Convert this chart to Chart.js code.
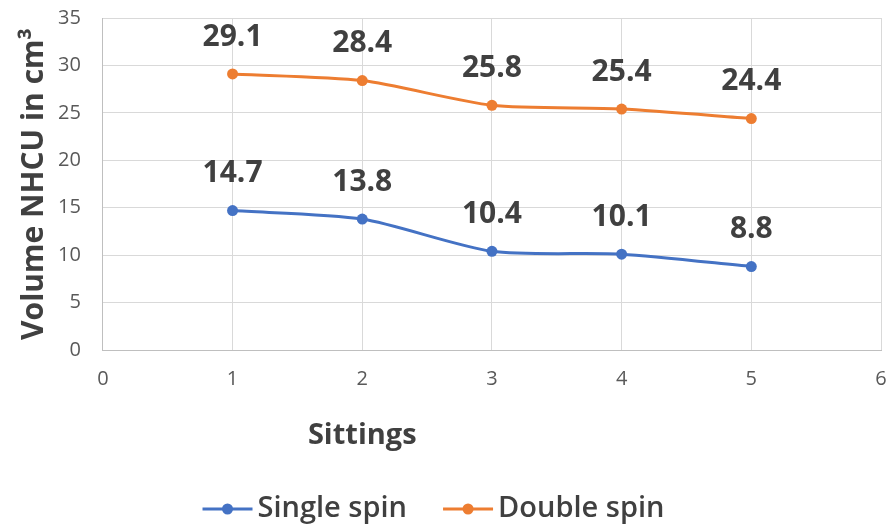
<!DOCTYPE html>
<html>
<head>
<meta charset="utf-8">
<script src="https://cdn.jsdelivr.net/npm/chart.js@4/dist/chart.umd.min.js"></script>
<style>
  html, body { margin: 0; padding: 0; background: #ffffff; }
  #wrap { width: 895px; height: 531px; }
</style>
</head>
<body>
<div id="wrap"><canvas id="chart" width="895" height="531"></canvas></div>
<script>
// Volume of NHCU per sitting for the two preparation methods
const sittings = [1, 2, 3, 4, 5];
const singleSpin = [14.7, 13.8, 10.4, 10.1, 8.8];
const doubleSpin = [29.1, 28.4, 25.8, 25.4, 24.4];
const xTickValues = [0, 1, 2, 3, 4, 5, 6];
const yTickValues = [0, 5, 10, 15, 20, 25, 30, 35];
const seriesNames = ['Single spin', 'Double spin'];
const xTitle = 'Sittings';
const yTitle = 'Volume NHCU in cm\u00B3';

const BLUE = '#4472C4';
const ORANGE = '#ED7D31';
const TEXT = '#404040';
const TICK = '#595959';
const GRID = '#d9d9d9';
const FONT = "'Open Sans', 'DejaVu Sans', sans-serif";

function toPoints(values) {
  return sittings.map((s, i) => ({ x: s, y: values[i] }));
}

// value labels above every point
const valueLabels = {
  id: 'valueLabels',
  afterDatasetsDraw(chart) {
    const ctx = chart.ctx;
    ctx.save();
    ctx.font = "bold 30px " + FONT;
    ctx.fillStyle = TEXT;
    ctx.textAlign = 'center';
    ctx.textBaseline = 'middle';
    chart.data.datasets.forEach((ds, di) => {
      const meta = chart.getDatasetMeta(di);
      meta.data.forEach((pt, i) => {
        ctx.fillText(String(ds.data[i].y), pt.x, pt.y - 37);
      });
    });
    ctx.restore();
  }
};

// x axis title and the bottom legend (line-with-dot swatches)
const bottomTexts = {
  id: 'bottomTexts',
  afterDraw(chart) {
    const ctx = chart.ctx;
    const xs = chart.scales.x;
    const area = chart.chartArea;
    ctx.save();
    ctx.font = "bold 29px " + FONT;
    ctx.fillStyle = TEXT;
    ctx.textAlign = 'center';
    ctx.textBaseline = 'middle';
    ctx.fillText(xTitle, xs.getPixelForValue(2), area.bottom + 86);

    // legend
    ctx.font = "600 29px " + FONT;
    const lineLen = 50, gapText = 5, gapItem = 36;
    const items = chart.data.datasets.map(ds => ({
      text: ds.label, color: ds.borderColor, w: ctx.measureText(ds.label).width
    }));
    let total = 0;
    items.forEach((it, i) => { total += lineLen + gapText + it.w + (i ? gapItem : 0); });
    let x = chart.width / 2 - 14 - total / 2;
    const y = 509;
    ctx.textAlign = 'left';
    items.forEach((it, i) => {
      if (i) x += gapItem;
      ctx.strokeStyle = it.color;
      ctx.lineWidth = 3;
      ctx.beginPath(); ctx.moveTo(x, y); ctx.lineTo(x + lineLen, y); ctx.stroke();
      ctx.fillStyle = it.color;
      ctx.beginPath(); ctx.arc(x + lineLen / 2, y, 5.5, 0, Math.PI * 2); ctx.fill();
      x += lineLen + gapText;
      ctx.fillStyle = TEXT;
      ctx.fillText(it.text, x, y);
      x += it.w;
    });
    ctx.restore();
  }
};

new Chart(document.getElementById('chart'), {
  type: 'line',
  data: {
    datasets: [
      {
        label: seriesNames[0],
        data: toPoints(singleSpin),
        borderColor: BLUE,
        backgroundColor: BLUE,
        borderWidth: 3,
        pointRadius: 5.5,
        pointBackgroundColor: BLUE,
        pointBorderWidth: 0,
        tension: 0.25
      },
      {
        label: seriesNames[1],
        data: toPoints(doubleSpin),
        borderColor: ORANGE,
        backgroundColor: ORANGE,
        borderWidth: 3,
        pointRadius: 5.5,
        pointBackgroundColor: ORANGE,
        pointBorderWidth: 0,
        tension: 0.25
      }
    ]
  },
  options: {
    responsive: false,
    animation: false,
    devicePixelRatio: 1,
    layout: { padding: { top: 18, right: 14, left: 6, bottom: 140 } },
    plugins: {
      tooltip: { enabled: false },
      legend: { display: false }
    },
    scales: {
      x: {
        type: 'linear',
        min: 0,
        max: 6,
        afterBuildTicks(scale) { scale.ticks = xTickValues.map(v => ({ value: v })); },
        grid: { color: GRID, lineWidth: 1, drawTicks: true, tickLength: 17, tickColor: 'rgba(0,0,0,0)' },
        border: { color: '#bfbfbf' },
        ticks: { color: TICK, font: { family: FONT, size: 20 }, padding: 0 }
      },
      y: {
        min: 0,
        max: 35,
        afterBuildTicks(scale) { scale.ticks = yTickValues.map(v => ({ value: v })); },
        grid: { color: GRID, lineWidth: 1, drawTicks: true, tickLength: 22, tickColor: 'rgba(0,0,0,0)' },
        border: { color: '#bfbfbf' },
        ticks: { color: TICK, font: { family: FONT, size: 20 }, padding: 0 },
        title: {
          display: true,
          text: yTitle,
          color: TEXT,
          font: { family: FONT, size: 30, weight: 'bold' },
          padding: { top: 10, bottom: 6 }
        }
      }
    }
  },
  plugins: [valueLabels, bottomTexts]
});
</script>
</body>
</html>
